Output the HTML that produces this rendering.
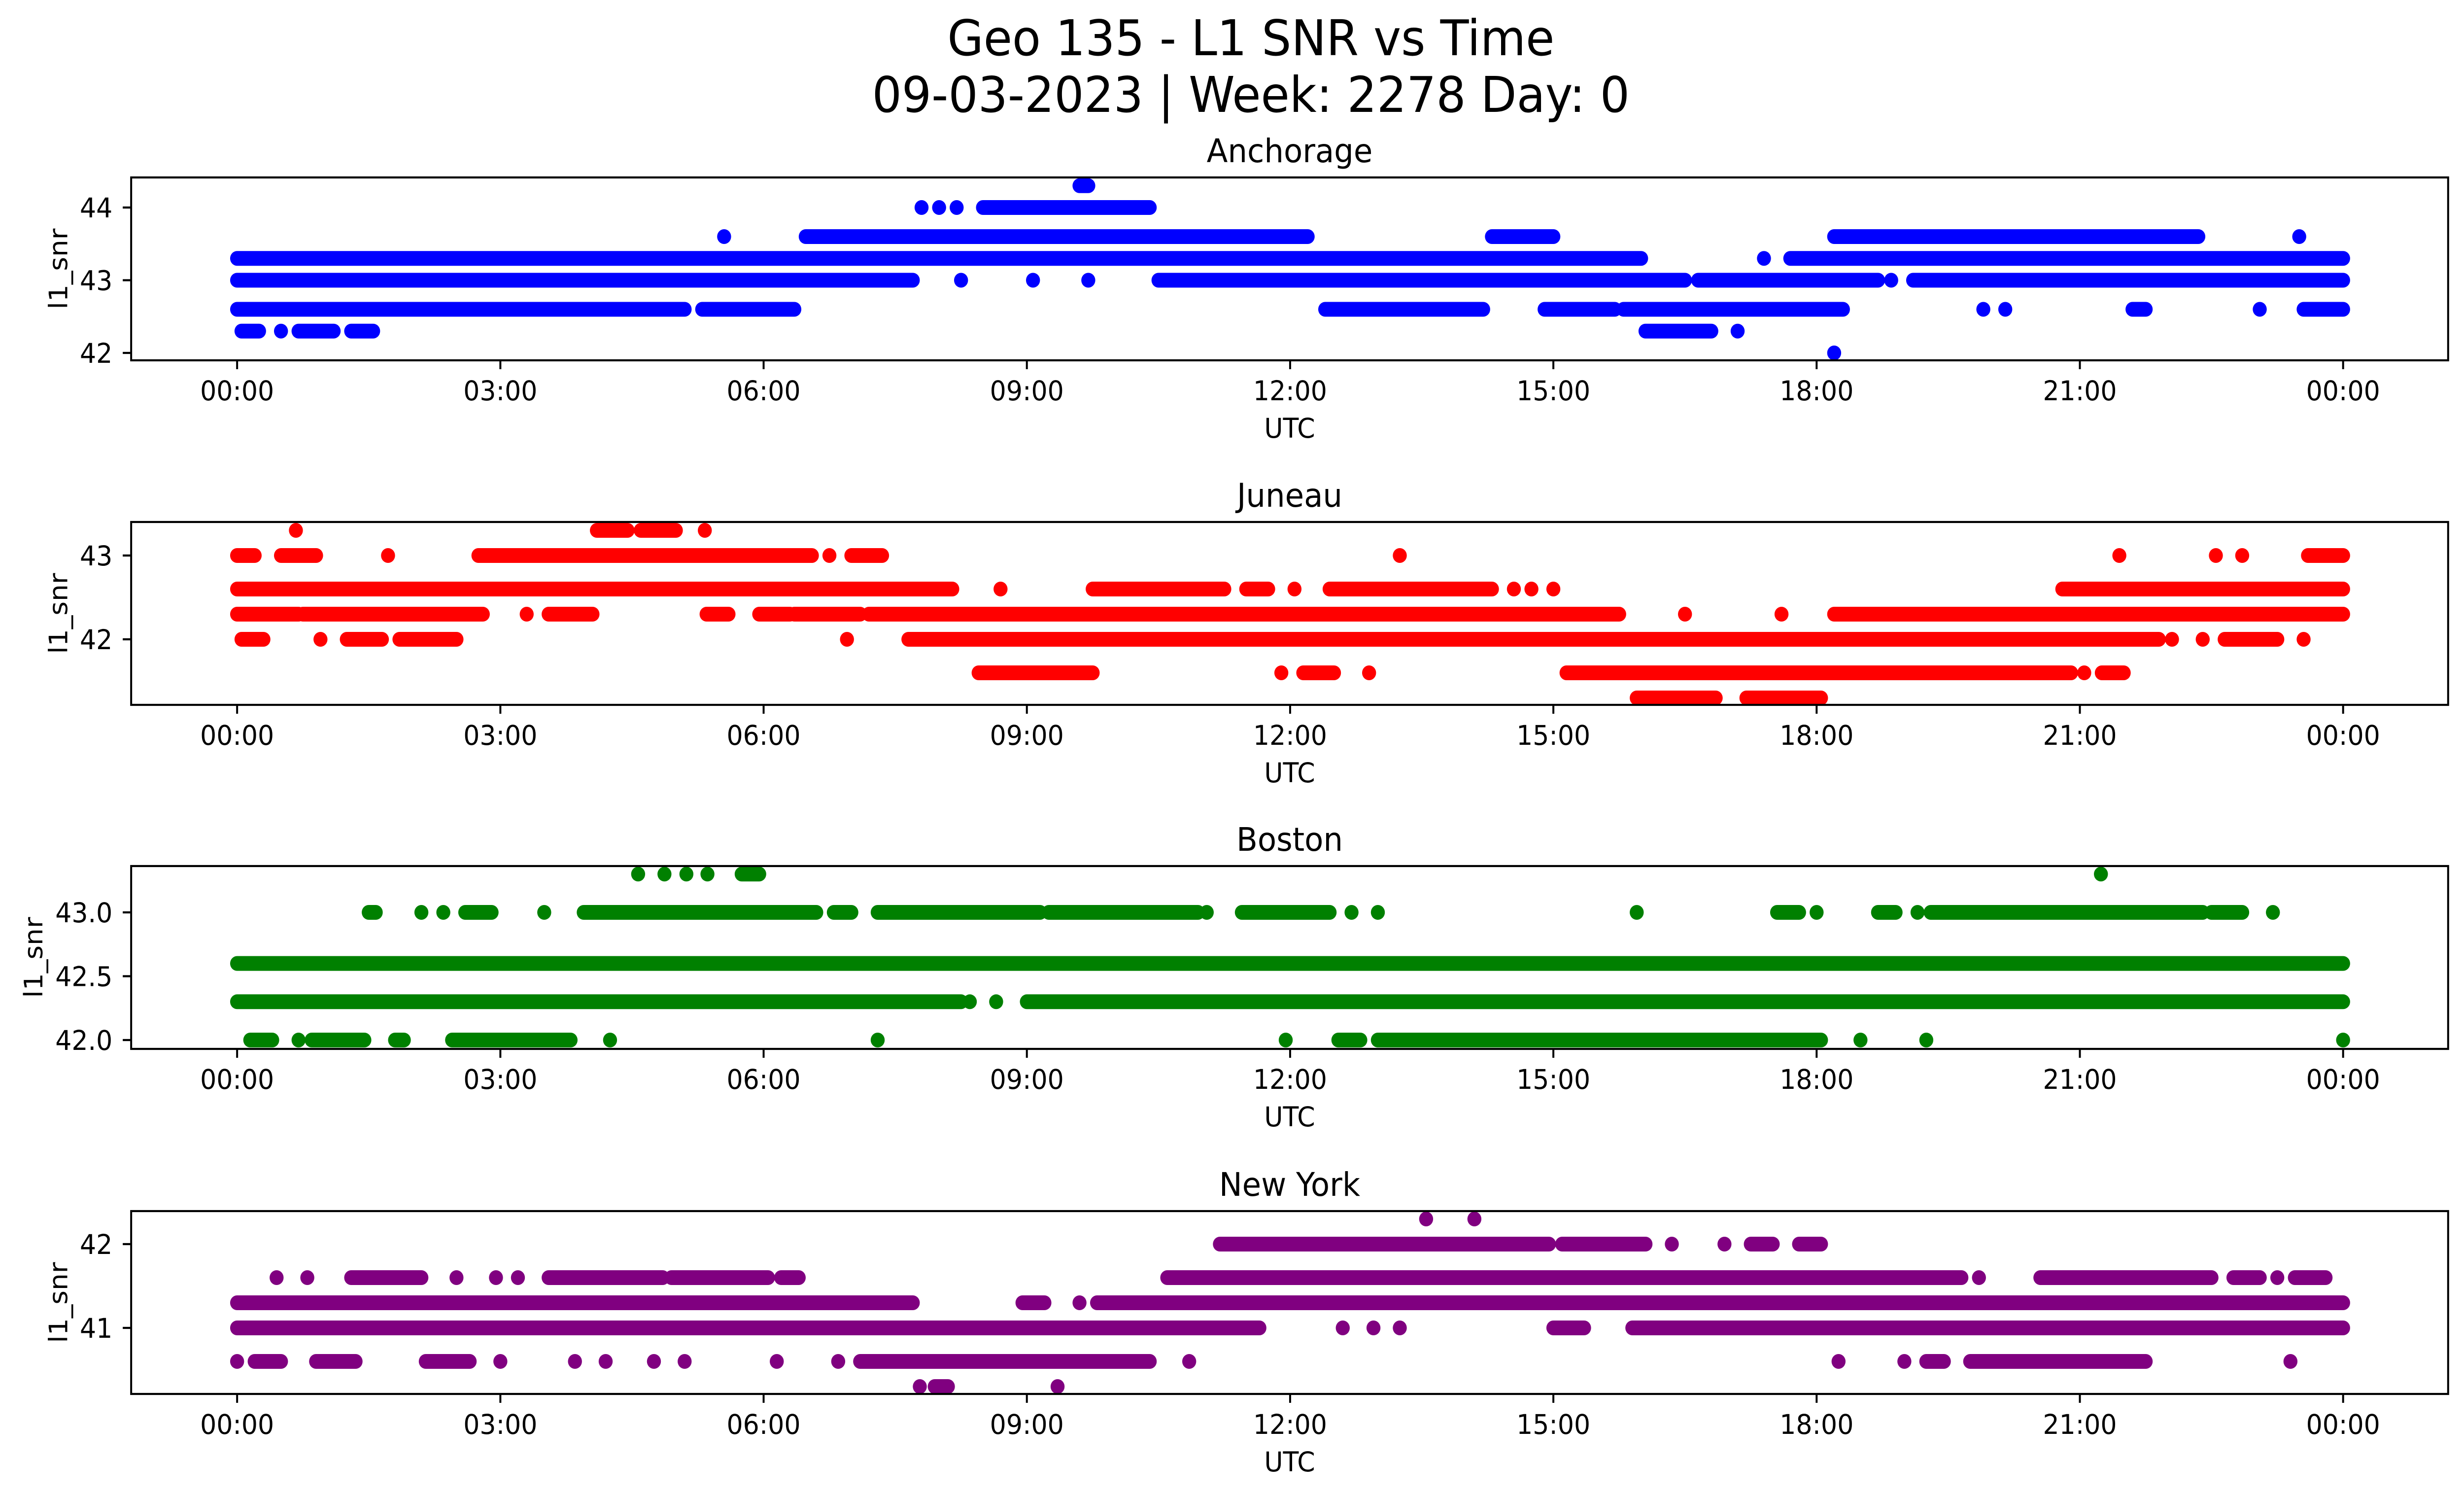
<!DOCTYPE html>
<html><head><meta charset="utf-8">
<style>
html,body{margin:0;padding:0;background:#fff;width:100vw;height:100vh;overflow:hidden;}
svg{display:block;width:100vw;height:100vh;font-family:"DejaVu Sans","Liberation Sans",sans-serif;}
</style></head>
<body>
<svg id="fig" viewBox="0 0 5279 3033" preserveAspectRatio="none" xmlns="http://www.w3.org/2000/svg">
<rect width="5279" height="3033" fill="#fff"/>
<text x="2680" y="112" font-size="100" text-anchor="middle">Geo 135 - L1 SNR vs Time</text>
<text x="2680" y="227" font-size="100" text-anchor="middle">09-03-2023 | Week: 2278 Day: 0</text>
<g id="plots"></g>
</svg>
<script>
// x tick labels (hours)
const xTickHours = [0,3,6,9,12,15,18,21,24];
const xTickLabels = ["00:00","03:00","06:00","09:00","12:00","15:00","18:00","21:00","00:00"];
// series data: [snr, startHour, endHour]
const anchorageData = [
[44.3,9.6,9.7],
[44.0,7.8,7.8],[44.0,8.0,8.0],[44.0,8.2,8.2],[44.0,8.5,10.4],
[43.6,5.55,5.55],[43.6,6.48,12.2],[43.6,14.3,15.0],[43.6,18.2,22.35],[43.6,23.5,23.5],
[43.3,0,16.0],[43.3,17.4,17.4],[43.3,17.7,24],
[43.0,0,7.7],[43.0,8.25,8.25],[43.0,9.07,9.07],[43.0,9.7,9.7],[43.0,10.5,16.5],[43.0,16.65,18.7],[43.0,18.85,18.85],[43.0,19.1,24],
[42.6,0,5.1],[42.6,5.3,6.35],[42.6,12.4,14.2],[42.6,14.9,15.7],[42.6,15.8,18.3],[42.6,19.9,19.9],[42.6,20.15,20.15],[42.6,21.6,21.75],[42.6,23.05,23.05],[42.6,23.55,24],
[42.3,0.05,0.25],[42.3,0.5,0.5],[42.3,0.7,1.1],[42.3,1.3,1.55],[42.3,16.05,16.8],[42.3,17.1,17.1],
[42.0,18.2,18.2]];
const juneauData = [
[43.3,0.67,0.67],[43.3,4.1,4.45],[43.3,4.6,5.0],[43.3,5.33,5.33],
[43.0,0,0.2],[43.0,0.5,0.9],[43.0,1.72,1.72],[43.0,2.75,6.55],[43.0,6.75,6.75],[43.0,7.0,7.35],[43.0,13.25,13.25],[43.0,21.45,21.45],[43.0,22.55,22.55],[43.0,22.85,22.85],[43.0,23.6,24],
[42.6,0,8.15],[42.6,8.7,8.7],[42.6,9.75,11.25],[42.6,11.5,11.75],[42.6,12.05,12.05],[42.6,12.45,14.3],[42.6,14.55,14.55],[42.6,14.75,14.75],[42.6,15.0,15.0],[42.6,20.8,24],
[42.3,0,0.7],[42.3,0.75,2.8],[42.3,3.3,3.3],[42.3,3.55,4.05],[42.3,5.35,5.6],[42.3,5.95,6.3],[42.3,6.35,7.1],[42.3,7.2,15.75],[42.3,16.5,16.5],[42.3,17.6,17.6],[42.3,18.2,24],
[42.0,0.05,0.3],[42.0,0.95,0.95],[42.0,1.25,1.65],[42.0,1.85,2.5],[42.0,6.95,6.95],[42.0,7.65,21.9],[42.0,22.05,22.05],[42.0,22.4,22.4],[42.0,22.65,23.25],[42.0,23.55,23.55],
[41.6,8.45,9.75],[41.6,11.9,11.9],[41.6,12.15,12.5],[41.6,12.9,12.9],[41.6,15.15,20.9],[41.6,21.05,21.05],[41.6,21.25,21.5],
[41.3,15.95,16.85],[41.3,17.2,18.05]];
const bostonData = [
[43.3,4.57,4.57],[43.3,4.87,4.87],[43.3,5.12,5.12],[43.3,5.36,5.36],[43.3,5.75,5.95],[43.3,21.24,21.24],
[43.0,1.5,1.58],[43.0,2.1,2.1],[43.0,2.35,2.35],[43.0,2.6,2.9],[43.0,3.5,3.5],[43.0,3.95,6.6],[43.0,6.8,7.0],[43.0,7.3,9.15],[43.0,9.25,10.95],[43.0,11.05,11.05],[43.0,11.45,12.45],[43.0,12.7,12.7],[43.0,13.0,13.0],[43.0,15.95,15.95],[43.0,17.55,17.8],[43.0,18.0,18.0],[43.0,18.7,18.9],[43.0,19.15,19.15],[43.0,19.3,22.4],[43.0,22.5,22.85],[43.0,23.2,23.2],
[42.6,0,24],
[42.3,0,8.25],[42.3,8.35,8.35],[42.3,8.65,8.65],[42.3,9.0,24],
[42.0,0.15,0.4],[42.0,0.7,0.7],[42.0,0.85,1.45],[42.0,1.8,1.9],[42.0,2.45,3.8],[42.0,4.25,4.25],[42.0,7.3,7.3],[42.0,11.95,11.95],[42.0,12.55,12.8],[42.0,13.0,18.05],[42.0,18.5,18.5],[42.0,19.25,19.25],[42.0,24,24]];
const newYorkData = [
[42.3,13.55,13.55],[42.3,14.1,14.1],
[42.0,11.2,14.95],[42.0,15.1,16.05],[42.0,16.35,16.35],[42.0,16.95,16.95],[42.0,17.25,17.5],[42.0,17.8,18.05],
[41.6,0.45,0.45],[41.6,0.8,0.8],[41.6,1.3,2.1],[41.6,2.5,2.5],[41.6,2.95,2.95],[41.6,3.2,3.2],[41.6,3.55,4.85],[41.6,4.95,6.05],[41.6,6.2,6.4],[41.6,10.6,19.65],[41.6,19.85,19.85],[41.6,20.55,22.5],[41.6,22.75,23.05],[41.6,23.25,23.25],[41.6,23.45,23.8],
[41.3,0,7.7],[41.3,8.95,9.2],[41.3,9.6,9.6],[41.3,9.8,24],
[41.0,0,11.65],[41.0,12.6,12.6],[41.0,12.95,12.95],[41.0,13.25,13.25],[41.0,15.0,15.35],[41.0,15.9,24],
[40.6,0,0],[40.6,0.2,0.5],[40.6,0.9,1.35],[40.6,2.15,2.65],[40.6,3.0,3.0],[40.6,3.85,3.85],[40.6,4.2,4.2],[40.6,4.75,4.75],[40.6,5.1,5.1],[40.6,6.15,6.15],[40.6,6.85,6.85],[40.6,7.1,10.4],[40.6,10.85,10.85],[40.6,18.25,18.25],[40.6,19.0,19.0],[40.6,19.25,19.45],[40.6,19.75,21.75],[40.6,23.4,23.4],
[40.3,7.78,7.78],[40.3,7.95,8.1],[40.3,9.35,9.35]];

const panels = [
 {name:"anchorage",title:"Anchorage",data:anchorageData,color:"#0000ff",top:360,v0:42,y0:716,k:147.5,ticks:[42,43,44],lbl:["42","43","44"],ylx:125},
 {name:"juneau",title:"Juneau",data:juneauData,color:"#ff0000",top:1059,v0:42,y0:1297,k:170,ticks:[42,43],lbl:["42","43"],ylx:125},
 {name:"boston",title:"Boston",data:bostonData,color:"#008000",top:1757,v0:42,y0:2110,k:259,ticks:[42,42.5,43],lbl:["42.0","42.5","43.0"],ylx:72},
 {name:"new-york",title:"New York",data:newYorkData,color:"#800080",top:2457,v0:41,y0:2694,k:170,ticks:[41,42],lbl:["41","42"],ylx:125}
];
const L=281,R=5245,H=371,R0=15;
const xs = h => 508 + h*188.0;
const NS="http://www.w3.org/2000/svg";
const root=document.getElementById('plots');
function mk(tag,attrs,parent){const e=document.createElementNS(NS,tag);for(const k in attrs)e.setAttribute(k,attrs[k]);parent.appendChild(e);return e;}
panels.forEach(p=>{
 const ys=v=>p.y0-(v-p.v0)*p.k;
 const g=mk('g',{},root);
 
 
 const t=mk('text',{x:(L+R)/2,y:p.top-31,'font-size':66,'text-anchor':'middle'},g);
 t.textContent=p.title;
 
 
 const ser=mk('g',{fill:p.color,stroke:p.color},g);
 
 
 p.data.forEach(d=>{
  const y=ys(d[0]);
  if(d[1]===d[2]){
   const c=mk('circle',{cx:xs(d[1]),cy:y,r:R0,stroke:'none'},ser);
   
   
  } else {
   const l=mk('line',{x1:xs(d[1]),x2:xs(d[2]),y1:y,y2:y,'stroke-width':2*R0,'stroke-linecap':'round'},ser);
   
   
  }
 });
 const fr=mk('rect',{x:L,y:p.top,width:R-L,height:H,fill:'none',stroke:'#000','stroke-width':4.2},g);
 
 
 xTickHours.forEach((h,i)=>{
  const x=xs(h);
  mk('line',{x1:x,x2:x,y1:p.top+H,y2:p.top+H+18,stroke:'#000','stroke-width':4.2},g);
  const tl=mk('text',{x:x,y:p.top+H+81,'font-size':55,'text-anchor':'middle'},g);
  tl.textContent=xTickLabels[i];
  
  
 });
 p.ticks.forEach((v,i)=>{
  const y=ys(v);
  mk('line',{x1:L-18,x2:L,y1:y,y2:y,stroke:'#000','stroke-width':4.2},g);
  const tl=mk('text',{x:L-40,y:y+20,'font-size':55,'text-anchor':'end'},g);
  tl.textContent=p.lbl[i];
  
  
 });
 const xl=mk('text',{x:(L+R)/2,y:p.top+H+157,'font-size':55,'text-anchor':'middle'},g);
 xl.textContent='UTC';
 
 
 const cy=p.top+H/2;
 const yl=mk('text',{x:p.ylx,y:cy+19,'font-size':55,'text-anchor':'middle',transform:`rotate(-90 ${p.ylx} ${cy})`},g);
 yl.textContent='l1_snr';
 
 
});
</script>
</body></html>
